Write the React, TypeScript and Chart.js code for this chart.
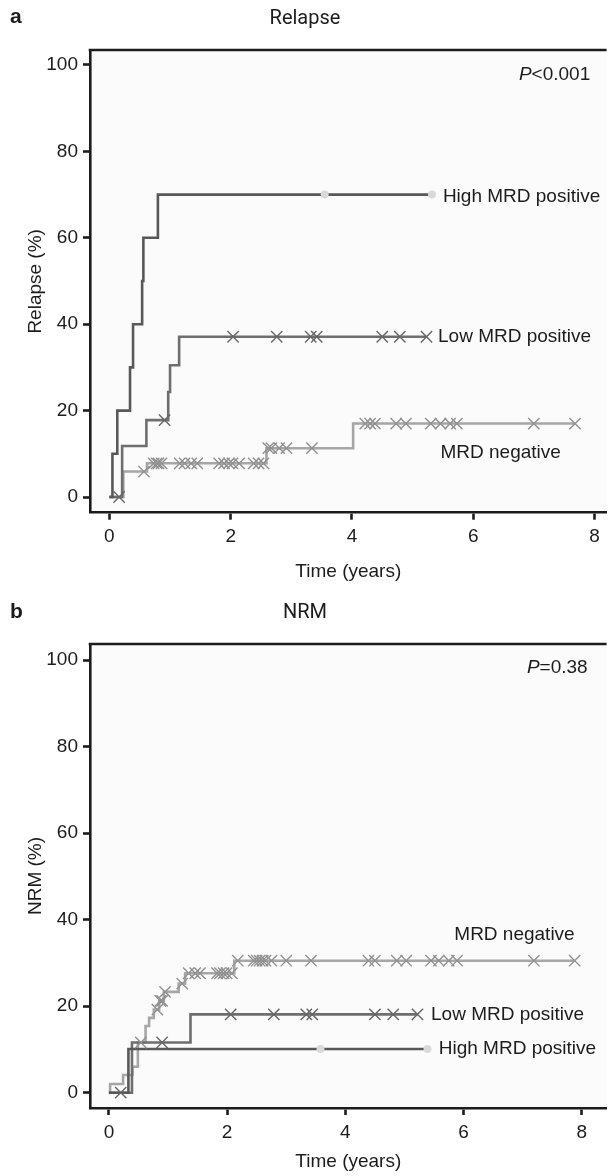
import React, { useEffect, useRef } from "react";
import { Chart, registerables } from "chart.js";
Chart.register(...registerables);

// ---------- shared tick labels ----------
const X_TICKS = [0, 2, 4, 6, 8];
const Y_TICKS = [0, 20, 40, 60, 80, 100];

// ---------- Panel a: Relapse ----------
const relHighTimes = [0, 0.05, 0.13, 0.34, 0.39, 0.54, 0.56, 0.8, 5.32];
const relHighValues = [0, 10, 20, 30, 40, 50, 60, 70, 70];
const relHighCensorTimes = [3.55, 5.32];
const relHighCensorValues = [70, 70];

const relLowTimes = [0, 0.21, 0.61, 0.97, 1.0, 1.15, 5.23];
const relLowValues = [0, 11.8, 17.8, 24.3, 30.5, 37.1, 37.1];
const relLowCensorTimes = [0.16, 0.91, 2.04, 2.76, 3.32, 3.42, 4.5, 4.79, 5.23];
const relLowCensorValues = [0, 17.8, 37.1, 37.1, 37.1, 37.1, 37.1, 37.1, 37.1];

const relNegTimes = [0, 0.23, 0.62, 2.59, 4.02, 7.68];
const relNegValues = [0, 5.9, 7.8, 11.3, 17.0, 17.0];
const relNegCensorTimes = [
  0.57, 0.73, 0.78, 0.81, 0.86, 1.16, 1.24, 1.35, 1.45, 1.81, 1.89, 1.97, 2.03, 2.14, 2.38, 2.46, 2.54,
  2.62, 2.67, 2.8, 2.92, 3.34,
  4.22, 4.3, 4.38, 4.73, 4.89, 5.3, 5.46, 5.62, 5.73, 7.0, 7.68,
];
const relNegCensorValues = [
  5.9, 7.8, 7.8, 7.8, 7.8, 7.8, 7.8, 7.8, 7.8, 7.8, 7.8, 7.8, 7.8, 7.8, 7.8, 7.8, 7.8,
  11.3, 11.3, 11.3, 11.3, 11.3,
  17.0, 17.0, 17.0, 17.0, 17.0, 17.0, 17.0, 17.0, 17.0, 17.0, 17.0,
];

// ---------- Panel b: NRM ----------
const nrmHighTimes = [0, 0.33, 5.38];
const nrmHighValues = [0, 10.1, 10.1];
const nrmHighCensorTimes = [3.58, 5.39];
const nrmHighCensorValues = [10.1, 10.1];

const nrmLowTimes = [0, 0.39, 1.38, 5.22];
const nrmLowValues = [0, 11.6, 18.1, 18.1];
const nrmLowCensorTimes = [0.2, 0.9, 2.06, 2.79, 3.34, 3.44, 4.5, 4.81, 5.22];
const nrmLowCensorValues = [0, 11.6, 18.1, 18.1, 18.1, 18.1, 18.1, 18.1, 18.1];

const nrmNegTimes = [0, 0.02, 0.24, 0.4, 0.49, 0.62, 0.68, 0.76, 0.85, 0.93, 1.18, 1.29, 2.12, 7.88];
const nrmNegValues = [0, 2.0, 4.1, 6.0, 11.6, 15.4, 17.3, 19.2, 21.2, 23.3, 25.2, 27.6, 30.5, 30.5];
const nrmNegCensorTimes = [
  0.54, 0.82, 0.87, 0.9, 0.95, 1.24, 1.35, 1.46, 1.54, 1.83, 1.88, 1.94, 1.99, 2.08,
  2.18, 2.45, 2.5, 2.55, 2.6, 2.65, 2.75, 3.0, 3.42, 4.39, 4.5, 4.87, 5.03, 5.45, 5.58, 5.75, 5.89, 7.19, 7.88,
];
const nrmNegCensorValues = [
  11.6, 19.2, 21.2, 21.2, 23.3, 25.2, 27.6, 27.6, 27.6, 27.6, 27.6, 27.6, 27.6, 27.6,
  30.5, 30.5, 30.5, 30.5, 30.5, 30.5, 30.5, 30.5, 30.5, 30.5, 30.5, 30.5, 30.5, 30.5, 30.5, 30.5, 30.5, 30.5, 30.5,
];

// ---------- styles ----------
const FONT = '"Liberation Sans", Arial, Helvetica, sans-serif';
const INK = "#1c1c1c";
const HIGH_COLOR = "#585858";
const LOW_COLOR = "#6e6e6e";
const NEG_COLOR = "#a6a6a6";
const DOT_COLOR = "#d9d9d9";

type Series = {
  times: number[];
  values: number[];
  color: string;
  censorTimes: number[];
  censorValues: number[];
  censorKind: "cross" | "dot";
  censorColor: string;
  order: number;
};

type Label = { text: string; x: number; y: number; align: "left" | "right" };

function buildConfig(p: {
  series: Series[];
  xMin: number; xMax: number; yMin: number; yMax: number;
  yTitle: string;
  padTop: number; padBottom: number; xAxisHeight: number; xTitlePad: number;
  labels: Label[];
  pLabel: { rest: string; x: number; y: number };
}) {
  const datasets: any[] = [];
  p.series.forEach((s) => {
    datasets.push({
      type: "line",
      data: s.times.map((t, i) => ({ x: t, y: s.values[i] })),
      borderColor: s.color,
      borderWidth: 2.6,
      stepped: "before",
      pointRadius: 0,
      fill: false,
      order: s.order + 10,
    });
    datasets.push({
      type: "scatter",
      data: s.censorTimes.map((t, i) => ({ x: t, y: s.censorValues[i] })),
      showLine: false,
      pointStyle: s.censorKind === "cross" ? "crossRot" : "circle",
      pointRadius: s.censorKind === "cross" ? 8 : 4,
      borderColor: s.censorColor,
      backgroundColor: s.censorColor,
      borderWidth: s.censorKind === "cross" ? 1.4 : 0,
      order: s.order,
    });
  });

  const plugin = {
    id: "kmDecor",
    beforeDraw(chart: any) {
      const { ctx, chartArea: a } = chart;
      ctx.save();
      ctx.fillStyle = "#fbfbfb";
      ctx.fillRect(a.left, a.top, a.right - a.left, a.bottom - a.top);
      ctx.restore();
    },
    afterDraw(chart: any) {
      const { ctx, chartArea: a, scales } = chart;
      ctx.save();
      ctx.strokeStyle = INK;
      ctx.lineWidth = 2.6;
      ctx.beginPath();
      ctx.moveTo(a.left - 1.3, a.top);
      ctx.lineTo(a.right, a.top);
      ctx.stroke();
      ctx.fillStyle = INK;
      ctx.textBaseline = "middle";
      ctx.font = `19px ${FONT}`;
      p.labels.forEach((l) => {
        ctx.textAlign = l.align;
        ctx.fillText(l.text, scales.x.getPixelForValue(l.x), scales.y.getPixelForValue(l.y));
      });
      // P value
      const px = scales.x.getPixelForValue(p.pLabel.x);
      const py = scales.y.getPixelForValue(p.pLabel.y);
      ctx.font = `19px ${FONT}`;
      const wRest = ctx.measureText(p.pLabel.rest).width;
      ctx.font = `italic 19px ${FONT}`;
      const wP = ctx.measureText("P").width;
      ctx.textAlign = "left";
      ctx.fillText("P", px - wRest - wP, py);
      ctx.font = `19px ${FONT}`;
      ctx.fillText(p.pLabel.rest, px - wRest, py);
      ctx.restore();
    },
  };

  const tickFont = { family: FONT, size: 19 };
  const gridOpts = {
    display: true,
    drawOnChartArea: false,
    drawTicks: true,
    tickLength: 7,
    tickWidth: 2.6,
    tickColor: INK,
  };
  const borderOpts = { display: true, color: INK, width: 2.6 };

  return {
    type: "scatter",
    data: { datasets },
    options: {
      responsive: false,
      animation: false,
      devicePixelRatio: 1,
      events: [],
      layout: { padding: { top: p.padTop, bottom: p.padBottom, left: 0, right: 0 } },
      plugins: { legend: { display: false }, tooltip: { enabled: false }, title: { display: false } },
      scales: {
        x: {
          type: "linear",
          min: p.xMin,
          max: p.xMax,
          afterBuildTicks: (ax: any) => {
            ax.ticks = X_TICKS.map((v) => ({ value: v }));
          },
          afterFit: (ax: any) => {
            ax.height = p.xAxisHeight;
          },
          ticks: { font: tickFont, color: INK, padding: 6, maxRotation: 0, autoSkip: false },
          grid: gridOpts,
          border: borderOpts,
          title: {
            display: true,
            text: "Time (years)",
            font: { family: FONT, size: 19 },
            color: INK,
            padding: { top: 0, bottom: p.xTitlePad },
          },
        },
        y: {
          type: "linear",
          min: p.yMin,
          max: p.yMax,
          afterBuildTicks: (ax: any) => {
            ax.ticks = Y_TICKS.map((v) => ({ value: v }));
          },
          afterFit: (ax: any) => {
            ax.width = 90;
          },
          ticks: { font: tickFont, color: INK, padding: 5, autoSkip: false },
          grid: gridOpts,
          border: borderOpts,
          title: {
            display: true,
            text: p.yTitle,
            font: { family: FONT, size: 19 },
            color: INK,
            padding: { top: 24, bottom: 0 },
          },
        },
      },
    },
    plugins: [plugin],
  };
}

function Panel({ top, height, make }: { top: number; height: number; make: () => any }) {
  const ref = useRef<HTMLCanvasElement>(null);
  useEffect(() => {
    const chart = new Chart(ref.current as HTMLCanvasElement, make());
    return () => chart.destroy();
  }, []);
  return (
    <canvas
      ref={ref}
      width={616}
      height={height}
      style={{ position: "absolute", left: 0, top, width: 616, height }}
    />
  );
}

const relapseConfig = () =>
  buildConfig({
    series: [
      { times: relNegTimes, values: relNegValues, color: NEG_COLOR, censorTimes: relNegCensorTimes, censorValues: relNegCensorValues, censorKind: "cross", censorColor: "#909090", order: 3 },
      { times: relLowTimes, values: relLowValues, color: LOW_COLOR, censorTimes: relLowCensorTimes, censorValues: relLowCensorValues, censorKind: "cross", censorColor: "#666666", order: 2 },
      { times: relHighTimes, values: relHighValues, color: HIGH_COLOR, censorTimes: relHighCensorTimes, censorValues: relHighCensorValues, censorKind: "dot", censorColor: DOT_COLOR, order: 1 },
    ],
    xMin: -0.32, xMax: 8.2, yMin: -3.63, yMax: 103.47,
    yTitle: "Relapse (%)",
    padTop: 50, padBottom: 7.3, xAxisHeight: 70, xTitlePad: 0,
    labels: [
      { text: "High MRD positive", x: 5.5, y: 69.5, align: "left" },
      { text: "Low MRD positive", x: 5.42, y: 37.1, align: "left" },
      { text: "MRD negative", x: 5.46, y: 10.35, align: "left" },
    ],
    pLabel: { rest: "<0.001", x: 7.93, y: 97.7 },
  });

const nrmConfig = () =>
  buildConfig({
    series: [
      { times: nrmNegTimes, values: nrmNegValues, color: NEG_COLOR, censorTimes: nrmNegCensorTimes, censorValues: nrmNegCensorValues, censorKind: "cross", censorColor: "#909090", order: 3 },
      { times: nrmLowTimes, values: nrmLowValues, color: LOW_COLOR, censorTimes: nrmLowCensorTimes, censorValues: nrmLowCensorValues, censorKind: "cross", censorColor: "#666666", order: 2 },
      { times: nrmHighTimes, values: nrmHighValues, color: HIGH_COLOR, censorTimes: nrmHighCensorTimes, censorValues: nrmHighCensorValues, censorKind: "dot", censorColor: DOT_COLOR, order: 1 },
    ],
    xMin: -0.32, xMax: 8.42, yMin: -3.54, yMax: 103.7,
    yTitle: "NRM (%)",
    padTop: 54, padBottom: 2, xAxisHeight: 66, xTitlePad: 1,
    labels: [
      { text: "MRD negative", x: 7.88, y: 36.4, align: "right" },
      { text: "Low MRD positive", x: 5.45, y: 18.1, align: "left" },
      { text: "High MRD positive", x: 5.58, y: 10.1, align: "left" },
    ],
    pLabel: { rest: "=0.38", x: 8.1, y: 98.2 },
  });

const letterStyle: React.CSSProperties = {
  position: "absolute",
  left: 10,
  font: `bold 21px ${FONT}`,
  color: INK,
  lineHeight: "20px",
};
const titleStyle: React.CSSProperties = {
  position: "absolute",
  left: 205,
  width: 200,
  textAlign: "center",
  font: `20px Roboto, ${FONT}`,
  color: INK,
  lineHeight: "20px",
};

export default function App() {
  return (
    <div style={{ position: "absolute", left: 0, top: 0, width: 616, height: 1176, overflow: "hidden", background: "#ffffff" }}>
      <Panel top={0} height={590} make={relapseConfig} />
      <Panel top={590} height={586} make={nrmConfig} />
      <div style={{ ...letterStyle, top: 6 }}>a</div>
      <div style={{ ...titleStyle, top: 7 }}>Relapse</div>
      <div style={{ ...letterStyle, top: 601 }}>b</div>
      <div style={{ ...titleStyle, top: 601 }}>NRM</div>
    </div>
  );
}
